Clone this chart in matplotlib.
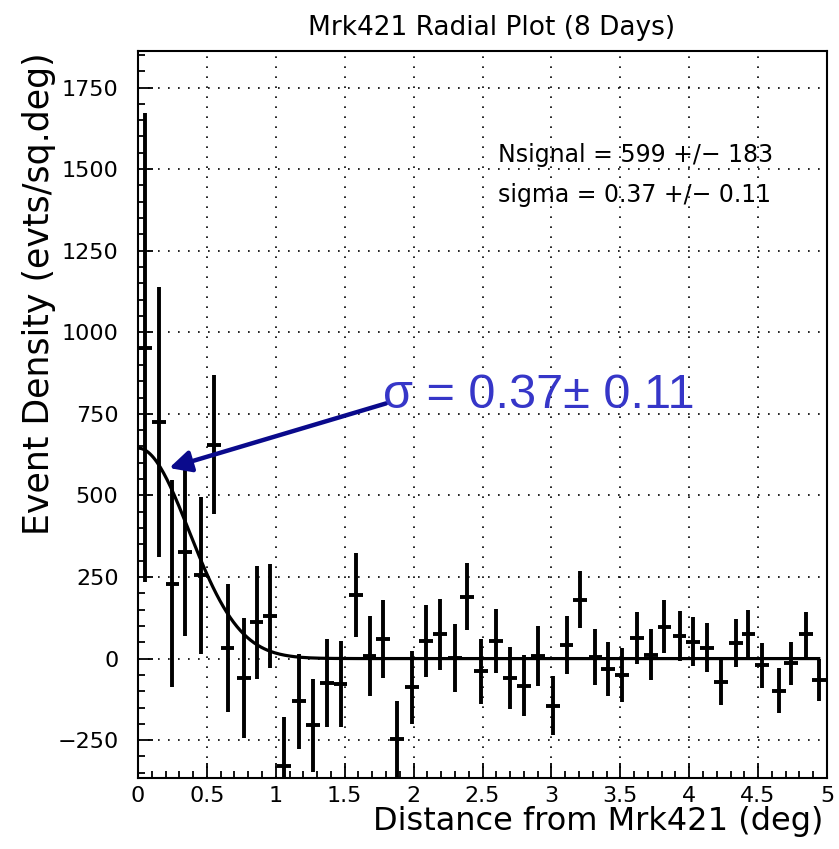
import numpy as np
import matplotlib.pyplot as plt
from matplotlib.ticker import MultipleLocator

# bin centres (deg) and event densities
dist = [0.05, 0.15, 0.25, 0.34, 0.46, 0.55, 0.65, 0.77, 0.86, 0.96,
        1.06, 1.17, 1.27, 1.37, 1.47, 1.58, 1.68, 1.78, 1.88, 1.99,
        2.09, 2.19, 2.30, 2.39, 2.49, 2.60, 2.70, 2.80, 2.90, 3.01,
        3.11, 3.21, 3.32, 3.41, 3.51, 3.62, 3.72, 3.82, 3.93, 4.03,
        4.13, 4.23, 4.34, 4.43, 4.53, 4.65, 4.74, 4.85, 4.94]
density = [953, 725, 229, 326, 255, 655, 33, -60, 111, 130,
           -330, -131, -205, -75, -78, 195, 9, 60, -246, -88,
           55, 74, 2, 190, -39, 55, -60, -83, 9, -144,
           42, 181, 4, -32, -50, 62, 12, 98, 70, 52,
           33, -71, 47, 76, -21, -98, -14, 74, -65]
density_err = [718, 415, 317, 258, 240, 213, 197, 183, 173, 160,
               152, 145, 142, 136, 132, 129, 123, 120, 116, 112,
               110, 108, 105, 103, 100, 98, 95, 94, 92, 91,
               88, 87, 86, 83, 83, 80, 79, 80, 77, 76,
               75, 72, 73, 72, 68, 68, 66, 68, 65]
bin_half = 0.05

# gaussian fit parameters
fit_amp = 645
fit_sigma = 0.37
fit_xmax = 4.94

fig = plt.figure(figsize=(8.39, 8.49), dpi=100)
W, H = 839, 849
ax = fig.add_axes([138 / W, 1 - 778 / H, (827 - 138) / W, (778 - 51) / H])

ax.errorbar(dist, density, yerr=density_err, xerr=bin_half, fmt='none',
            ecolor='black', elinewidth=2.8, capsize=0, zorder=3)

xf = np.linspace(0, fit_xmax, 400)
ax.plot(xf, fit_amp * np.exp(-xf ** 2 / (2 * fit_sigma ** 2)), color='black', lw=2.3, zorder=4)

ax.set_xlim(0, 5)
ax.set_ylim(-366, 1862)
ax.xaxis.set_minor_locator(MultipleLocator(0.1))
ax.yaxis.set_major_locator(MultipleLocator(250))
ax.yaxis.set_minor_locator(MultipleLocator(50))
ax.set_xticks(np.arange(0, 5.01, 0.5))
ax.set_xticklabels(['0', '0.5', '1', '1.5', '2', '2.5', '3', '3.5', '4', '4.5', '5'])
ax.tick_params(which='both', direction='in', top=False, right=False, width=1.3)
ax.tick_params(which='major', length=10.5)
ax.tick_params(which='minor', length=5)
ax.tick_params(axis='y', labelsize=16, pad=14)
ax.tick_params(axis='x', labelsize=16, pad=6)
for s in ax.spines.values():
    s.set_linewidth(1.5)
ax.grid(True, which='major', color='black', linestyle=(0, (1, 5)), linewidth=1.2)

fig.text(492 / W, 1 - 28 / H, 'Mrk421 Radial Plot (8 Days)', ha='center', va='center', fontsize=19)
fig.text(823 / W, 1 - 830 / H, 'Distance from Mrk421 (deg)', ha='right', va='baseline', fontsize=23)
fig.text(39 / W, 1 - 52 / H, 'Event Density (evts/sq.deg)', ha='center', va='top',
         rotation=90, fontsize=25)

ax.text((498 - 138) / 137.9, (658.5 - 161.7) / 81.57 * 250, 'Nsignal = 599 +/\u2212 183',
        fontsize=17, va='baseline', ha='left')
ax.text((498 - 138) / 137.9, (658.5 - 201.7) / 81.57 * 250, 'sigma = 0.37 +/\u2212 0.11',
        fontsize=17, va='baseline', ha='left')

ax.annotate('', xy=(0.226, 584), xytext=(1.80, 782),
            arrowprops=dict(arrowstyle='-|>,head_length=1.3,head_width=0.65', color='#0a0a8c', lw=3.2,
                            shrinkA=0, shrinkB=0), zorder=5)
ax.text(1.778, 767, '\u03c3 = 0.37\u00b1 0.11', color='#3636c8', fontsize=35,
        family='Liberation Sans', ha='left', va='baseline', zorder=6)

fig.savefig('out.png', dpi=100)
